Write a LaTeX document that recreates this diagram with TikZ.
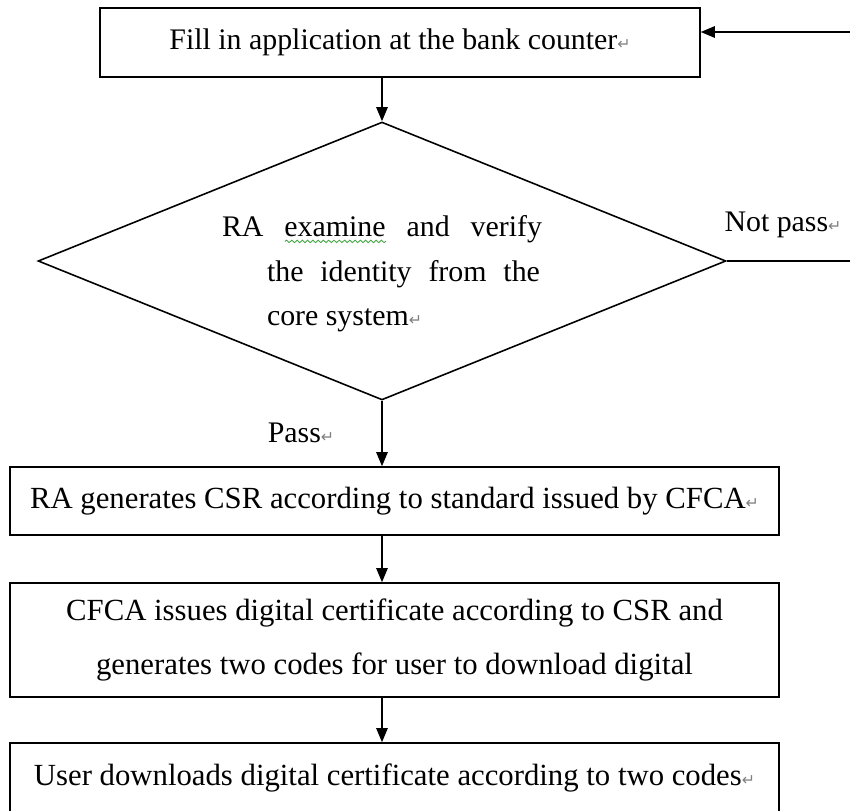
\documentclass[tikz,border=0pt]{standalone}
\usepackage{fontspec}
\setmainfont{Liberation Serif}
\newfontfamily\retfont{DejaVu Sans}
\usepackage{tikz}
\usetikzlibrary{shapes.geometric, arrows.meta, decorations.pathmorphing}

\definecolor{spellgreen}{RGB}{70,165,70}
\newcommand{\retmark}{{\retfont\fontsize{9}{9}\selectfont\color{gray}↵}}
\newsavebox{\spellbox}
\newlength{\spellwd}
\newcommand{\spellword}[1]{\sbox{\spellbox}{#1}\setlength{\spellwd}{\wd\spellbox}%
  \rlap{\raisebox{-4pt}{\tikz\draw[spellgreen, line width=0.5pt, decorate, decoration={snake, amplitude=0.7pt, segment length=3pt}] (0pt,0pt) -- (\spellwd,0pt);}}\usebox{\spellbox}}

\begin{document}
\begin{tikzpicture}[
    x=0.02cm, y=-0.02cm,
    >={Triangle[length=8pt, width=6.5pt]},
    proc/.style={rectangle, draw, line width=0.9pt, minimum width=15.38cm, inner sep=0pt, align=center, font=\fontsize{17.5}{31}\selectfont},
    decision/.style={diamond, draw, line width=0.9pt, aspect=2.5, inner sep=0pt, minimum width=13.76cm, minimum height=5.56cm, align=left, font=\fontsize{17}{25.6}\selectfont},
    branch/.style={inner sep=0pt, font=\fontsize{17}{20}\selectfont},
    arrow/.style={->, line width=0.8pt}
]
\useasboundingbox (0,0) rectangle (850,811);

% steps
\node[proc, minimum width=12cm, minimum height=1.38cm, font=\fontsize{17}{20}\selectfont] (fill) at (400,42.5) {Fill in application at the bank counter\retmark};
\node[decision] (check) at (382,261) {\rule{0pt}{0.93cm}\makebox[6.4cm][s]{RA \spellword{examine} and verify}\\
    \hspace*{0.9cm}\makebox[5.46cm][s]{the identity from the}\\
    \hspace*{0.9cm}core system\retmark};
\node[proc, minimum height=1.36cm] (csr) at (394.5,501) {RA generates CSR according to standard issued by CFCA\retmark};
\node[proc, minimum height=2.28cm] (issue) at (394.5,640) {CFCA issues digital certificate according to CSR and\\generates two codes for user to download digital};
\node[proc, minimum height=1.38cm] (down) at (394.5,777.5) {User downloads digital certificate according to two codes\retmark};

% branch labels
\node[branch] (pass) at (301,433) {Pass\retmark};
\node[branch] (notpass) at (783,225) {Not pass\retmark};

% connectors
\draw[arrow] (check.north |- fill.south) -- (check.north);
\draw[arrow] (check.south) -- (check.south |- csr.north);
\draw[arrow] (check.south |- csr.south) -- (check.south |- issue.north);
\draw[arrow] (check.south |- issue.south) -- (check.south |- down.north);
\coordinate (back) at (853,261);
\draw[arrow] (check.east) -- (back) |- ([yshift=0.21cm]fill.east);

\end{tikzpicture}
\end{document}
